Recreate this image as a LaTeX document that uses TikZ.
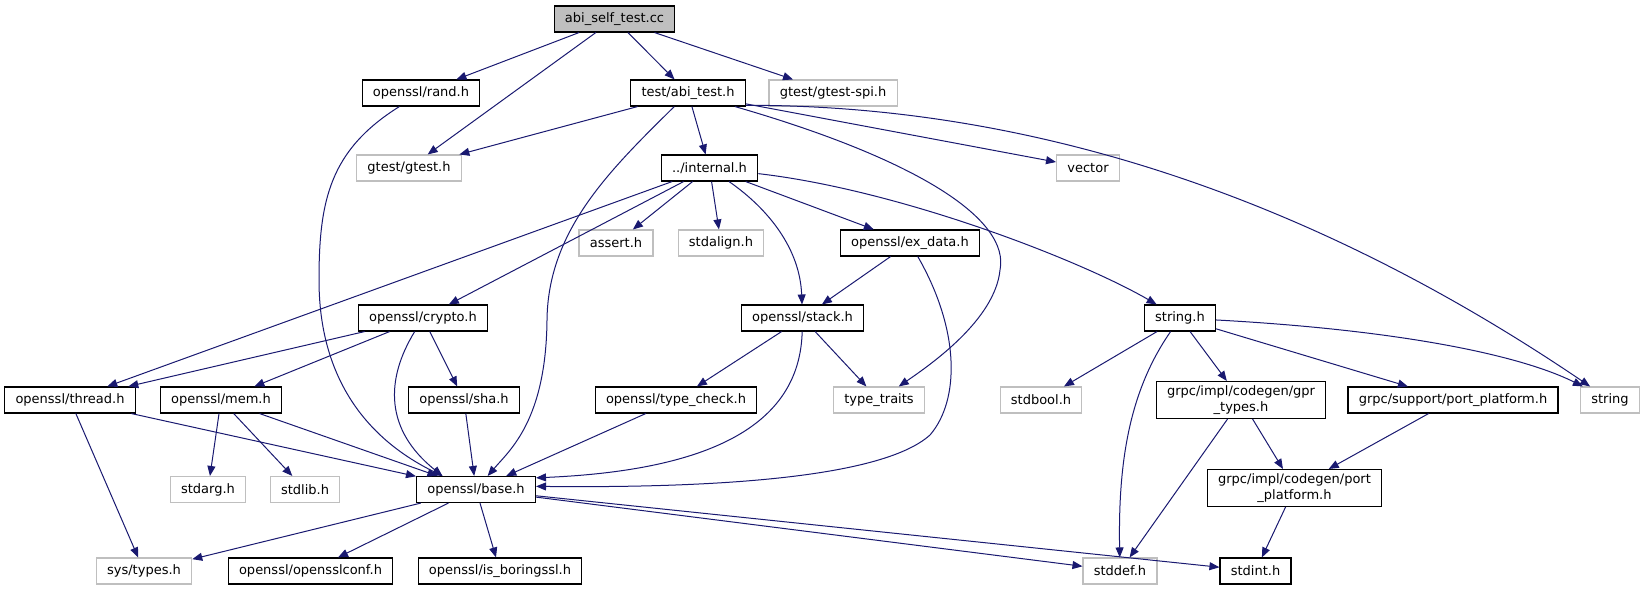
\documentclass[tikz,border=0pt]{standalone}
\usepackage{fontspec}
\setmainfont{DejaVu Sans}
\usetikzlibrary{arrows.meta}
\definecolor{edgeblue}{HTML}{191970}
\definecolor{boxgray}{HTML}{BFBFBF}

\begin{document}
\begin{tikzpicture}[x=1pt, y=-1pt,
    font=\fontsize{13}{16}\selectfont,
    hdr/.style={draw=black, line width=1.1pt, inner xsep=10.8pt, inner ysep=4pt,
                minimum height=26pt, align=center},
    ext/.style={hdr, draw=boxgray},
    rootfile/.style={hdr, fill=boxgray},
    dep/.style={draw=edgeblue, line width=1pt, -{Triangle[length=10pt, width=8pt]}}]
                \useasboundingbox (0,0) rectangle (1645,589);

                % files
                \node[rootfile] (self) at (614.5, 19) {abi\_self\_test.cc};
                \node[hdr] (rand) at (421, 93) {openssl/rand.h};
                \node[hdr] (abitest) at (688, 93) {test/abi\_test.h};
                \node[ext] (spi) at (833, 93) {gtest/gtest-spi.h};
                \node[ext] (gtest) at (409, 168) {gtest/gtest.h};
                \node[hdr] (internal) at (709.5, 168) {../internal.h};
                \node[ext] (vector) at (1088, 168) {vector};
                \node[ext] (assert) at (616, 243) {assert.h};
                \node[ext] (stdalign) at (721, 243) {stdalign.h};
                \node[hdr] (exdata) at (910, 243) {openssl/ex\_data.h};
                \node[hdr] (crypto) at (423, 318) {openssl/crypto.h};
                \node[hdr] (stack) at (802.5, 318) {openssl/stack.h};
                \node[hdr] (stringh) at (1180, 318) {string.h};
                \node[hdr] (thread) at (70, 400) {openssl/thread.h};
                \node[hdr] (mem) at (221, 400) {openssl/mem.h};
                \node[hdr] (sha) at (464, 400) {openssl/sha.h};
                \node[hdr] (typecheck) at (676, 400) {openssl/type\_check.h};
                \node[ext] (typetraits) at (879, 400) {type\_traits};
                \node[ext] (stdbool) at (1041, 400) {stdbool.h};
                \node[hdr] (gprtypes) at (1241, 400) {grpc/impl/codegen/gpr\\\_types.h};
                \node[hdr] (support) at (1453, 400) {grpc/support/port\_platform.h};
                \node[ext] (string) at (1610, 400) {string};
                \node[ext] (stdarg) at (208, 489.5) {stdarg.h};
                \node[ext] (stdlib) at (305, 489.5) {stdlib.h};
                \node[hdr] (base) at (476, 489.5) {openssl/base.h};
                \node[hdr] (portplat) at (1294.5, 488) {grpc/impl/codegen/port\\\_platform.h};
                \node[ext] (systypes) at (144, 571) {sys/types.h};
                \node[hdr] (conf) at (310.5, 571) {openssl/opensslconf.h};
                \node[hdr] (boring) at (500, 571) {openssl/is\_boringssl.h};
                \node[ext] (stddef) at (1120, 571) {stddef.h};
                \node[hdr] (stdint) at (1255.5, 571) {stdint.h};

                % includes
                \draw[dep] (self) -- (rand);
                \draw[dep] (self) -- (gtest);
                \draw[dep] (self) -- (abitest);
                \draw[dep] (self) -- (spi);
                \draw[dep] (abitest) -- (gtest);
                \draw[dep] (abitest) .. controls (610,170) and (548,230) .. (547,320)
                    .. controls (546,420) and (510,450) .. (base);
                \draw[dep] (abitest) -- (internal);
                \draw[dep] (abitest) .. controls (920,160) and (1010,220) .. (1000,270)
                    .. controls (995,320) and (930,365) .. (typetraits);
                \draw[dep] (abitest) -- (vector);
                \draw[dep] (abitest.-12) .. controls (1050,105) and (1330,210) .. (string);
                \draw[dep] (rand) .. controls (330,150) and (319,200) .. (319,280)
                    .. controls (319,400) and (390,450) .. (base.158);
                \draw[dep] (internal) -- (thread);
                \draw[dep] (internal) -- (crypto);
                \draw[dep] (internal) -- (assert);
                \draw[dep] (internal) -- (stdalign);
                \draw[dep] (internal) .. controls (770,210) and (800,250) .. (stack);
                \draw[dep] (internal) -- (exdata);
                \draw[dep] (internal) .. controls (900,190) and (1080,260) .. (stringh);
                \draw[dep] (exdata) -- (stack);
                \draw[dep] (exdata) .. controls (960,330) and (960,400) .. (930,435)
                    .. controls (880,480) and (700,488) .. (base.3);
                \draw[dep] (crypto) -- (thread);
                \draw[dep] (crypto) -- (mem);
                \draw[dep] (crypto) .. controls (385,380) and (385,430) .. (base.158);
                \draw[dep] (crypto) -- (sha);
                \draw[dep] (stack) -- (typecheck);
                \draw[dep] (stack) .. controls (800,420) and (720,470) .. (base.11);
                \draw[dep] (stack) -- (typetraits);
                \draw[dep] (stringh) -- (stdbool);
                \draw[dep] (stringh) .. controls (1130,390) and (1118,460) .. (stddef);
                \draw[dep] (stringh) -- (gprtypes);
                \draw[dep] (stringh) -- (support);
                \draw[dep] (stringh) .. controls (1400,330) and (1520,355) .. (string);
                \draw[dep] (thread) -- (base);
                \draw[dep] (thread) -- (systypes);
                \draw[dep] (mem) -- (stdarg);
                \draw[dep] (mem) -- (stdlib);
                \draw[dep] (mem) -- (base);
                \draw[dep] (sha) -- (base);
                \draw[dep] (typecheck) -- (base);
                \draw[dep] (gprtypes) -- (stddef);
                \draw[dep] (gprtypes) -- (portplat);
                \draw[dep] (support) -- (portplat);
                \draw[dep] (portplat) -- (stdint);
                \draw[dep] (base) -- (systypes);
                \draw[dep] (base) -- (conf);
                \draw[dep] (base) -- (boring);
                \draw[dep] (base) -- (stddef);
                \draw[dep] (base) -- (stdint);
            \end{tikzpicture}
\end{document}
